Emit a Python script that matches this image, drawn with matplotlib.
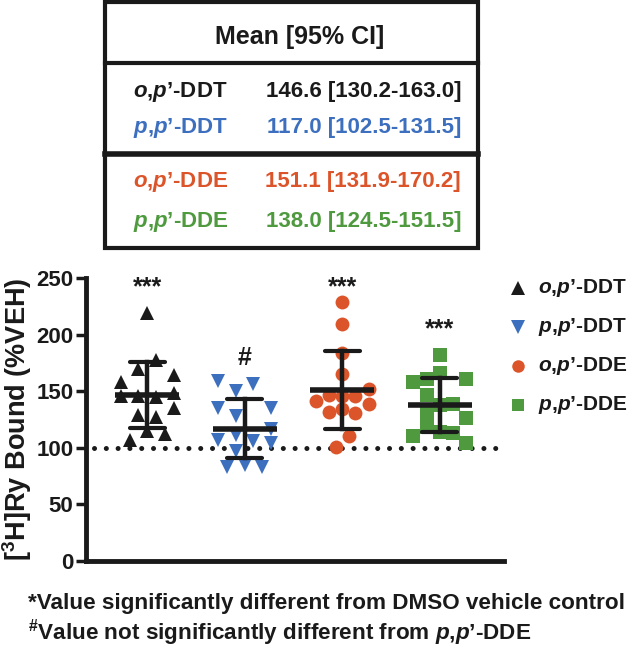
import numpy as np
import matplotlib.pyplot as plt
from matplotlib.lines import Line2D
from matplotlib.patches import Rectangle

plt.rcParams['font.family'] = ['Liberation Sans', 'DejaVu Sans']
plt.rcParams['font.weight'] = 'bold'
plt.rcParams['mathtext.fontset'] = 'custom'
plt.rcParams['mathtext.rm'] = 'Liberation Sans:bold'
plt.rcParams['mathtext.it'] = 'Liberation Sans:italic:bold'
plt.rcParams['mathtext.bf'] = 'Liberation Sans:bold'

# compounds: italic prefix + suffix
prefixes = ['o{,}p’', 'p{,}p’', 'o{,}p’', 'p{,}p’']
suffixes = ['DDT', 'DDT', 'DDE', 'DDE']
colors = ['#1a1a1a', '#3d6fbf', '#dc5429', '#4f9a3f']
markers = ['^', 'v', 'o', 's']
msizes = [10.5, 10.5, 10, 9.5]

# table values
means = [146.6, 117.0, 151.1, 138.0]
ci_low = [130.2, 102.5, 131.9, 124.5]
ci_high = [163.0, 131.5, 170.2, 151.5]
# error bars (SD)
sds = [29.2, 25.7, 34.3, 24.0]

# individual values (%VEH) and their column slot inside each scatter
vals_opDDT = [219, 178, 170, 164, 158, 146, 146, 145, 148, 135, 129, 127, 115, 112, 107]
slot_opDDT = [0, 1, -1, 3, -3, -3, -1, 1, 3, 3, -1, 1, 0, 2, -2]
vals_ppDDT = [159, 150, 156, 135, 128, 135, 117, 107, 111, 106, 104, 97, 83, 85, 83]
slot_ppDDT = [-3, -1, 1, -3, -1, 3, 3, -3, -1, 1, 3, -1, -2, 0, 2]
vals_opDDE = [229, 209, 184, 165, 152, 147, 146, 146, 141, 139, 134, 132, 131, 110, 101]
slot_opDDE = [0, 0, 0, 0, 3, -1.5, 1.5, 0, -3, 3, 0, -1.5, 1.5, 0.75, -0.75]
vals_ppDDE = [182, 166, 161, 161, 158, 147, 139, 138, 131, 126, 118, 114, 113, 104, 110]
slot_ppDDE = [0, 0, 3, -1.5, -3, -1.5, 1.5, 0, -1.5, 3, -1.5, 0, 1.5, 3, -3]

values = [vals_opDDT, vals_ppDDT, vals_opDDE, vals_ppDDE]
slots = [slot_opDDT, slot_ppDDT, slot_opDDE, slot_ppDDE]

stars = ['***', '#', '***', '***']
star_y = [242, 179, 242, 205]

W, H = 633, 650
fig = plt.figure(figsize=(W / 100, H / 100), dpi=100)
ax = fig.add_axes([86 / W, 1 - 561 / H, (504 - 86) / W, (561 - 278) / H])

def fx(px):
    return px / W

def fy(py):
    return 1 - py / H

step = 0.09
for i in range(4):
    xc = i + 1
    xs = xc + np.array(slots[i]) * step
    ax.plot(xs, values[i], linestyle='none', marker=markers[i], color=colors[i],
            markersize=msizes[i], markeredgewidth=0, zorder=3, clip_on=False)
    m, s = means[i], sds[i]
    ax.plot([xc - 0.33, xc + 0.33], [m, m], color='#1a1a1a', lw=4, solid_capstyle='butt', zorder=4)
    ax.plot([xc, xc], [m - s, m + s], color='#1a1a1a', lw=3.2, zorder=4)
    for yy in (m - s, m + s):
        ax.plot([xc - 0.18, xc + 0.18], [yy, yy], color='#1a1a1a', lw=3,
                solid_capstyle='round', zorder=4)
    ax.text(xc, star_y[i], stars[i], ha='center', va='center', fontsize=18, color='#1a1a1a')

# vehicle level
ax.plot([0.46, 4.6], [100, 100], color='#1a1a1a', lw=3.6, linestyle=(0, (0.01, 2.35)),
        dash_capstyle='round', zorder=2)

ax.set_xlim(1 - 61 / 97.3, 4 + 64 / 97.3)
ax.set_ylim(0, 250)
ax.set_yticks([0, 50, 100, 150, 200, 250])
ax.set_xticks([])
for sp in ['top', 'right']:
    ax.spines[sp].set_visible(False)
for sp in ['left', 'bottom']:
    ax.spines[sp].set_linewidth(3.5)
    ax.spines[sp].set_color('#1a1a1a')
ax.tick_params(axis='y', length=7, width=2.5, pad=2, labelsize=16, colors='#1a1a1a')
ax.set_ylabel('[$^{3}$H]Ry Bound (%VEH)', fontsize=19.5, fontweight='bold', labelpad=2,
              color='#1a1a1a')

# legend
leg_y = [288, 327, 366, 405]
for i in range(4):
    fig.add_artist(Line2D([fx(518)], [fy(leg_y[i])], marker=markers[i], color=colors[i],
                          markersize=msizes[i] - 1, markeredgewidth=0, transform=fig.transFigure))
    fig.text(fx(538), fy(leg_y[i]), r'$\mathit{%s}$-%s' % (prefixes[i], suffixes[i]),
             fontsize=15, va='center', ha='left', color='#1a1a1a')

# table
box_l, box_r, box_t, box_b = 105, 478, 2, 248
fig.add_artist(Rectangle((fx(box_l), fy(box_b)), fx(box_r - box_l), (box_b - box_t) / H,
                         transform=fig.transFigure, fill=False, lw=3, edgecolor='#1a1a1a'))
fig.add_artist(Line2D([fx(box_l), fx(box_r)], [fy(63), fy(63)], lw=3, color='#1a1a1a',
                      transform=fig.transFigure))
fig.add_artist(Line2D([fx(box_l), fx(box_r)], [fy(154), fy(154)], lw=4, color='#1a1a1a',
                      transform=fig.transFigure))
fig.text(fx(300), fy(37), 'Mean [95% CI]', ha='center', va='center', fontsize=18, color='#1a1a1a')
row_y = [92, 128, 182, 222]
for i in range(4):
    fig.text(fx(133), fy(row_y[i]), r'$\mathit{%s}$-%s' % (prefixes[i], suffixes[i]),
             ha='left', va='center', fontsize=16, color=colors[i])
    fig.text(fx(461), fy(row_y[i]), '%.1f [%.1f-%.1f]' % (means[i], ci_low[i], ci_high[i]),
             ha='right', va='center', fontsize=16, color=colors[i])

# footnotes
fig.text(fx(28), fy(603), '*Value significantly different from DMSO vehicle control',
         ha='left', va='center', fontsize=16.2, color='#1a1a1a')
fig.text(fx(28), fy(633), r'$^{\#}$Value not significantly different from $\mathit{p{,}p’}$-DDE',
         ha='left', va='center', fontsize=16.2, color='#1a1a1a')

fig.savefig('out.png', dpi=100)
